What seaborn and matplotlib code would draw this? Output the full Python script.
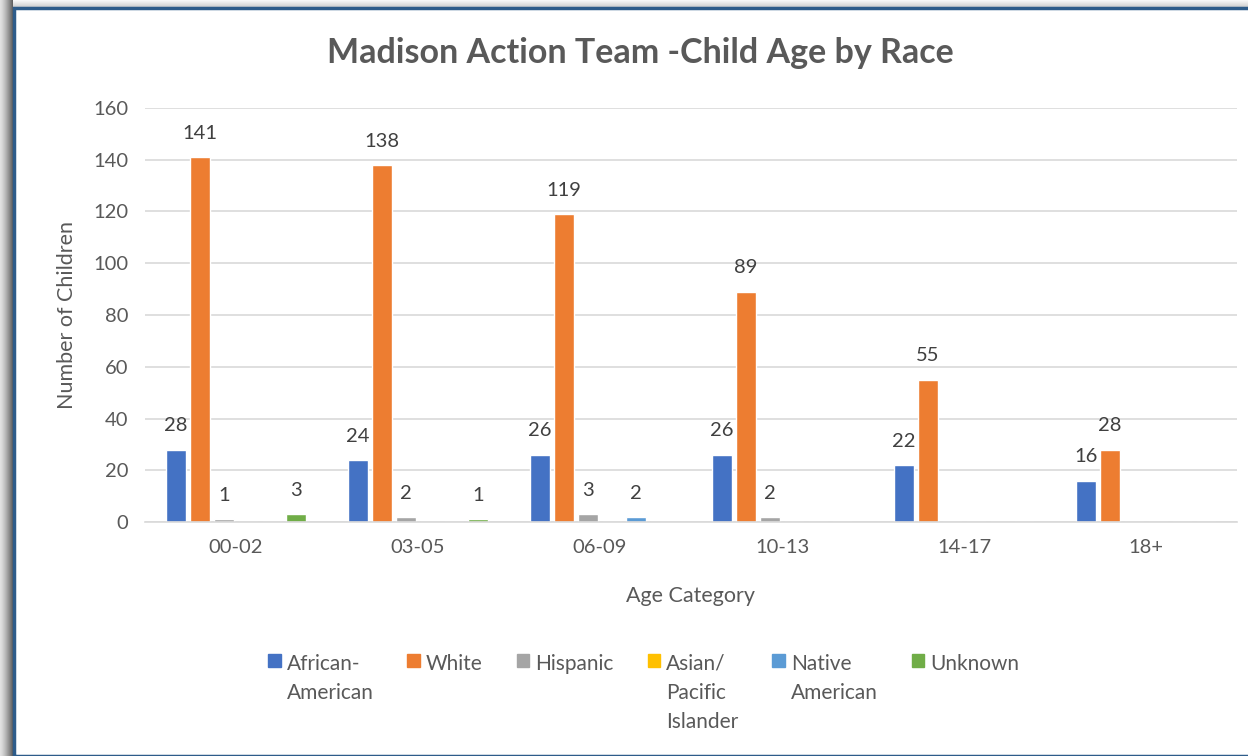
import pandas as pd
import numpy as np
import matplotlib
matplotlib.use("Agg")
import matplotlib.pyplot as plt
from matplotlib.patches import Rectangle
import seaborn as sns

# datos del grafico
age_groups = ["00-02", "03-05", "06-09", "10-13", "14-17", "18+"]
races = ["African-American", "White", "Hispanic", "Asian/Pacific Islander",
         "Native American", "Unknown"]
african_american = [28, 24, 26, 26, 22, 16]
white = [141, 138, 119, 89, 55, 28]
hispanic = [1, 2, 3, 2, 0, 0]
asian_pacific = [0, 0, 0, 0, 0, 0]
native_american = [0, 0, 2, 0, 0, 0]
unknown = [3, 1, 0, 0, 0, 0]
legend_labels = ["African-\nAmerican", "White", "Hispanic",
                 "Asian/\nPacific\nIslander", "Native\nAmerican", "Unknown"]
colors = ["#4472C4", "#ED7D31", "#A5A5A5", "#FFC000", "#5B9BD5", "#70AD47"]

series = [african_american, white, hispanic, asian_pacific, native_american, unknown]
rows = []
for race, vals in zip(races, series):
    for age, v in zip(age_groups, vals):
        rows.append({"Age": age, "Race": race, "Count": v})
df = pd.DataFrame(rows)

sns.set_style("white")
plt.rcParams["font.family"] = ["Lato", "DejaVu Sans"]
txt = "#595959"

W, H = 1248, 756
fig = plt.figure(figsize=(12.48, 7.56), dpi=100)
ax = fig.add_axes([145 / W, 1 - 522 / H, (1237 - 145) / W, (522 - 108) / H])

sns.barplot(data=df, x="Age", y="Count", hue="Race", hue_order=races,
            order=age_groups, palette=colors, width=0.79, gap=0.17,
            saturation=1, ax=ax, legend=False)

for cont, vals in zip(ax.containers, series):
    labs = [str(v) if v > 0 else "" for v in vals]
    ax.bar_label(cont, labels=labs, padding=11, fontsize=14.5, color="#404040")

ax.set_ylim(0, 160)
ax.set_yticks(range(0, 161, 20))
ax.set_xlim(-0.5, 5.5)
ax.yaxis.grid(True, color="#D9D9D9", linewidth=1.2)
ax.set_axisbelow(True)
for s in ["top", "right", "left"]:
    ax.spines[s].set_visible(False)
ax.spines["bottom"].set_color("#D9D9D9")
ax.spines["bottom"].set_linewidth(1.2)
ax.tick_params(length=0, labelsize=14.5, labelcolor=txt, pad=12)
ax.set_xlabel("Age Category", fontsize=15.5, color=txt, labelpad=22)
ax.set_ylabel("Number of Children", fontsize=15.5, color=txt, labelpad=12)

fig.text(640 / W, 1 - 53 / H, "Madison Action Team -Child Age by Race",
         ha="center", va="center", fontsize=24.5, fontweight="bold", color=txt)

handles = [Rectangle((0, 0), 1, 1, color=c) for c in colors]
leg = fig.legend(handles, legend_labels, ncol=6, loc="upper left",
                 bbox_to_anchor=(268 / W, 1 - 654 / H), frameon=False,
                 fontsize=15, handlelength=0.6, handleheight=0.6,
                 handletextpad=0.3, columnspacing=1.62, labelcolor=txt,
                 borderaxespad=0, borderpad=0)
# alinear los cuadros con la primera linea del texto
leg._legend_handle_box.align = "top"
for col in leg._legend_handle_box.get_children():
    for item in col.get_children():
        item.align = "top"
for t in leg.get_texts():
    t.set_linespacing(1.55)

# marco con sombra (degradado a la izquierda y arriba)
for i in range(13):
    g = 0.88 - 0.5 * (i / 12) ** 1.3
    fig.patches.append(Rectangle((i / W, 0), 1 / W, 1, transform=fig.transFigure,
                                 facecolor=(g, g, g), linewidth=0,
                                 antialiased=False, zorder=0))
for j in range(7):
    g = 0.97 - 0.15 * (j / 6)
    fig.patches.append(Rectangle((13 / W, 1 - (j + 1) / H), 1, 1 / H,
                                 transform=fig.transFigure, facecolor=(g, g, g),
                                 linewidth=0, antialiased=False, zorder=0))
fig.patches.append(Rectangle((14 / W, 0), 1.2, 1 - 8 / H,
                             transform=fig.transFigure, facecolor="none",
                             edgecolor="#2E5C8A", linewidth=2.5, zorder=1))

fig.savefig("out.png", dpi=100)
